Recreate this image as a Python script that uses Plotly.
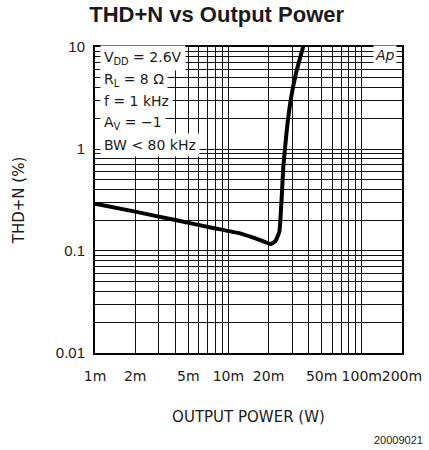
import plotly.graph_objects as go

# THD+N curve (output power in W, THD+N in %)
power_w = [0.001, 0.002, 0.004, 0.0075, 0.0122, 0.0173, 0.0207, 0.0225, 0.0241,
           0.0251, 0.0258, 0.0274, 0.0293, 0.0321, 0.0365]
thd_pct = [0.29, 0.243, 0.201, 0.169, 0.149, 0.128, 0.117, 0.125, 0.155,
           0.34, 0.67, 1.54, 3.02, 5.52, 10.3]

x_labels = {0.001: "1m", 0.002: "2m", 0.005: "5m", 0.01: "10m", 0.02: "20m",
            0.05: "50m", 0.1: "100m", 0.2: "200m"}
y_labels = {0.01: "0.01", 0.1: "0.1", 1: "1", 10: "10"}

conditions = ["V<sub>DD</sub> = 2.6V", "R<sub>L</sub> = 8 Ω", "f = 1 kHz",
              "A<sub>V</sub> = −1", "BW < 80 kHz"]

# log grid values: every digit of each decade
def decade_grid(first_exp, last_exp, stop):
    vals = []
    for e in range(first_exp, last_exp + 1):
        for d in range(1, 10):
            v = round(d * 10.0 ** e, 12)
            if v <= stop * 1.0001:
                vals.append(v)
    return vals

x_grid = decade_grid(-3, -1, 0.2)
y_grid = decade_grid(-2, 1, 10)

def label_for(v, table):
    for k, t in table.items():
        if abs(v / k - 1) < 1e-6:
            return t
    return ""

fig = go.Figure()
fig.add_trace(go.Scatter(
    x=power_w, y=thd_pct, mode="lines",
    line=dict(color="black", width=4, shape="spline", smoothing=0.35),
    showlegend=False, hoverinfo="skip",
))

grid_col = "#111111"
clear = "rgba(0,0,0,0)"

fig.update_xaxes(
    type="log", range=[-3.0005, -0.6985], automargin=False,
    tickvals=x_grid, ticktext=[label_for(v, x_labels) for v in x_grid],
    tickangle=0,
    showgrid=True, gridcolor=grid_col, gridwidth=1.4,
    showline=True, linecolor="black", linewidth=2, mirror=True,
    ticks="outside", ticklen=9, tickcolor=clear,
    tickfont=dict(family="DejaVu Sans", size=14, color="#1a1a1a"),
    zeroline=False,
    title=dict(text="OUTPUT POWER (W)", standoff=29,
               font=dict(family="DejaVu Sans", size=15, color="#1a1a1a")),
)
fig.update_yaxes(
    type="log", range=[-2.0005, 1.0005], automargin=False,
    tickvals=y_grid, ticktext=[label_for(v, y_labels) for v in y_grid],
    showgrid=True, gridcolor=grid_col, gridwidth=1.4,
    showline=True, linecolor="black", linewidth=2, mirror=True,
    ticks="outside", ticklen=5, tickcolor=clear,
    tickfont=dict(family="Liberation Sans", size=15, color="#1a1a1a"),
    zeroline=False,
    title=dict(text="THD+N (%)", standoff=28,
               font=dict(family="DejaVu Sans", size=15, color="#1a1a1a")),
)

annotations = []
row_y = [0.964, 0.892, 0.822, 0.752, 0.680]
for txt, yy in zip(conditions, row_y):
    annotations.append(dict(
        text=txt, xref="paper", yref="paper", x=0.017, y=yy,
        xanchor="left", yanchor="middle", showarrow=False,
        bgcolor="white", borderpad=3,
        font=dict(family="DejaVu Sans", size=14, color="#1a1a1a"),
    ))
annotations.append(dict(
    text="<i>Ap</i>", xref="paper", yref="paper", x=0.985, y=0.975,
    xanchor="right", yanchor="middle", showarrow=False,
    bgcolor="white", borderpad=1,
    font=dict(family="DejaVu Sans", size=14, color="#1a1a1a"),
))
annotations.append(dict(
    text="20009021", xref="paper", yref="paper", x=1.075, y=-0.285,
    xanchor="right", yanchor="middle", showarrow=False,
    font=dict(family="Liberation Sans", size=11, color="#1a1a1a"),
))

fig.update_layout(
    width=429, height=450,
    margin=dict(l=95, r=27, t=47, b=97),
    paper_bgcolor="white", plot_bgcolor="white",
    title=dict(text="<b>THD+N vs Output Power</b>", x=0.505, xanchor="center",
               y=0.968, yanchor="middle",
               font=dict(family="Liberation Sans", size=22, color="#1a1a1a")),
    annotations=annotations,
)

fig.write_html("out.html")
